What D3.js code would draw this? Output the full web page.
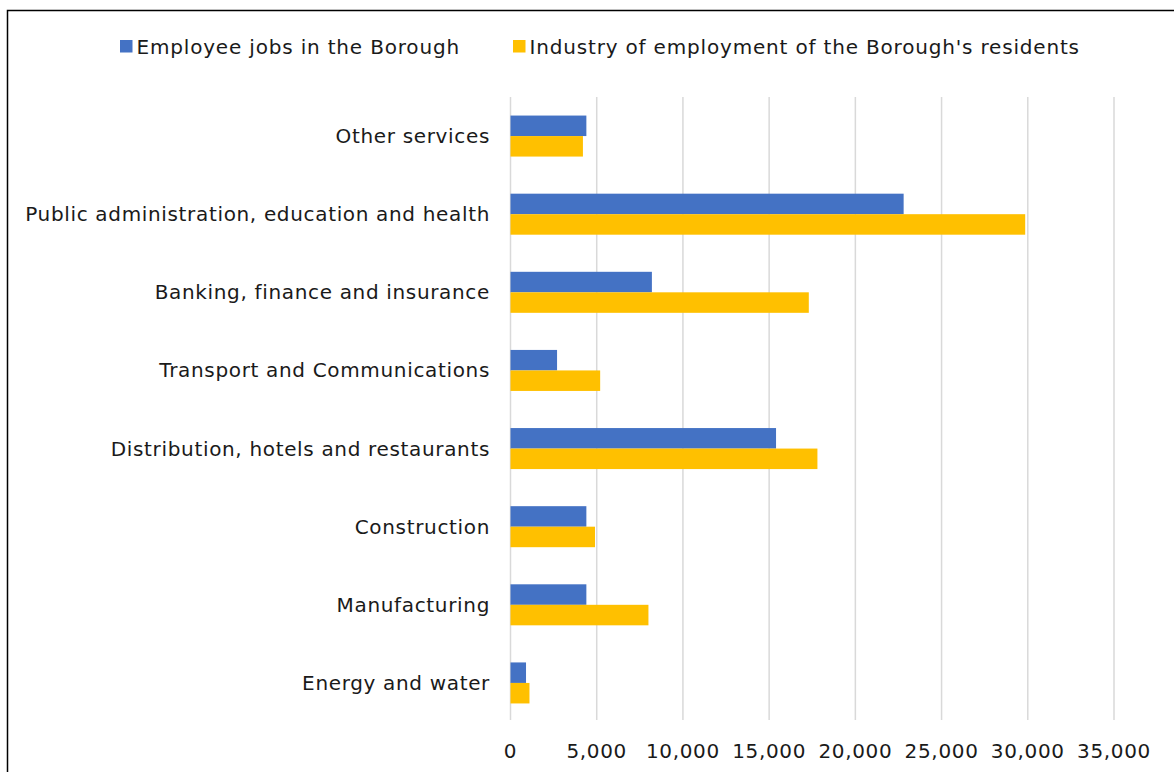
<!DOCTYPE html>
<html>
<head>
<meta charset="utf-8">
<script src="https://cdn.jsdelivr.net/npm/d3@7"></script>
<style>
  html, body { margin: 0; padding: 0; background: #fff; }
  svg { display: block; }
  text { font-family: "DejaVu Sans", Verdana, sans-serif; fill: #1a1a1a; font-size: 20px; letter-spacing: 0.66px; }
  .legend text { letter-spacing: 0.82px; }
</style>
</head>
<body>
<svg id="chart" width="1174" height="772"></svg>
<script>
// Industries, top to bottom
const categories = [
  "Other services",
  "Public administration, education and health",
  "Banking, finance and insurance",
  "Transport and Communications",
  "Distribution, hotels and restaurants",
  "Construction",
  "Manufacturing",
  "Energy and water"
];

const seriesNames = [
  "Employee jobs in the Borough",
  "Industry of employment of the Borough's residents"
];

// Employee jobs located in the Borough
const employeeJobs = [4400, 22800, 8200, 2700, 15400, 4400, 4400, 900];
// Industry in which the Borough's residents are employed
const residentsEmployment = [4200, 29850, 17300, 5200, 17800, 4900, 8000, 1100];

const xTicks = [0, 5000, 10000, 15000, 20000, 25000, 30000, 35000];

const colors = ["#4472C4", "#FFC000"];

const svg = d3.select("#chart");

// outer frame
svg.append("path")
  .attr("d", "M7.5,790 V10.5 H1190")
  .attr("fill", "none")
  .attr("stroke", "#000")
  .attr("stroke-width", 1.5);

const plot = { left: 510.5, right: 1114, top: 97, bottom: 722 };

const x = d3.scaleLinear().domain([0, 35000]).range([plot.left, plot.right]);
const y = d3.scaleBand().domain(categories).range([plot.top, plot.bottom]).paddingInner(0.475).paddingOuter(0.2375);
const ySub = d3.scaleBand().domain([0, 1]).range([0, y.bandwidth()]);

// vertical gridlines
svg.append("g")
  .selectAll("line")
  .data(xTicks)
  .join("line")
  .attr("x1", d => x(d)).attr("x2", d => x(d))
  .attr("y1", plot.top).attr("y2", 720)
  .attr("stroke", "#d9d9d9")
  .attr("stroke-width", 1.5);

// x tick labels
svg.append("g")
  .selectAll("text")
  .data(xTicks)
  .join("text")
  .attr("x", d => x(d))
  .attr("y", 758)
  .attr("text-anchor", "middle")
  .text(d => d3.format(",")(d));

// category labels
svg.append("g")
  .selectAll("text")
  .data(categories)
  .join("text")
  .attr("x", 490)
  .attr("y", d => y(d) + y.bandwidth() / 2)
  .attr("dy", "0.35em")
  .attr("text-anchor", "end")
  .text(d => d);

// bars
const series = [employeeJobs, residentsEmployment];
series.forEach((vals, si) => {
  svg.append("g")
    .selectAll("rect")
    .data(categories.map((c, i) => ({ c, v: vals[i] })))
    .join("rect")
    .attr("x", x(0))
    .attr("y", d => y(d.c) + ySub(si))
    .attr("width", d => x(d.v) - x(0))
    .attr("height", ySub.bandwidth())
    .attr("fill", colors[si]);
});

// legend
const legendPos = [120, 513];
const legend = svg.append("g").attr("class", "legend");
seriesNames.forEach((name, i) => {
  const g = legend.append("g").attr("transform", `translate(${legendPos[i]},40)`);
  g.append("rect").attr("width", 12.5).attr("height", 12.5).attr("fill", colors[i]);
  g.append("text")
    .attr("x", 16.5)
    .attr("y", 14.3)
    .text(name);
});
</script>
</body>
</html>
